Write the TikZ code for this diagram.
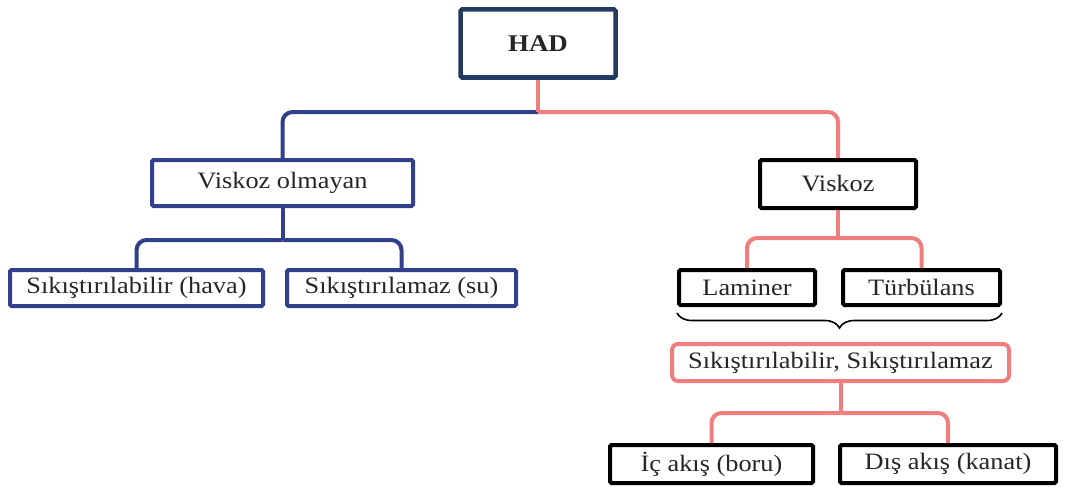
\documentclass[tikz,border=0pt]{standalone}
\usepackage{fontspec}
\setmainfont{Liberation Serif}[FakeStretch=1.12]
\usetikzlibrary{decorations.pathreplacing}
\definecolor{navy}{HTML}{243A5E}
\definecolor{linkblue}{HTML}{313F8C}
\definecolor{linkpink}{HTML}{F07E7E}
\definecolor{txt}{HTML}{262626}
\tikzset{
  box/.style={draw, line width=4pt, rounded corners=1.5pt, fill=white, inner sep=0pt,
              text=txt, font=\fontsize{23.5}{28}\selectfont},
  bluebox/.style={box, draw=linkblue},
  blackbox/.style={box, draw=black},
  pinkbox/.style={box, draw=linkpink, rounded corners=6pt},
  bluelink/.style={draw=linkblue, line width=4pt, rounded corners=10pt},
  pinklink/.style={draw=linkpink, line width=4pt, rounded corners=10pt},
}
\begin{document}
\begin{tikzpicture}[x=1pt, y=-1pt]
\useasboundingbox (0,0) rectangle (1068,487);

% nodes
\node[box, draw=navy, line width=4.5pt, minimum width=155pt, minimum height=68pt,
      font=\fontsize{24}{28}\selectfont\bfseries] (had) at (538,43.5) {HAD};

\node[bluebox, minimum width=261pt, minimum height=46pt] (vo) at (282.5,183) {Viskoz olmayan};
\node[bluebox, minimum width=253pt, minimum height=36pt] (s1) at (136.5,288) {Sıkıştırılabilir (hava)};
\node[bluebox, minimum width=229pt, minimum height=36pt] (s2) at (401.5,288) {Sıkıştırılamaz (su)};

\node[blackbox, minimum width=156pt, minimum height=48pt] (vi) at (838,184) {Viskoz};
\node[blackbox, minimum width=136pt, minimum height=35pt] (lam) at (747,287.5) {Laminer};
\node[blackbox, minimum width=157pt, minimum height=35pt] (tur) at (921.5,287.5) {Türbülans};

\node[pinkbox, minimum width=337pt, minimum height=37pt] (ss) at (840.5,362.5) {Sıkıştırılabilir, Sıkıştırılamaz};

\node[blackbox, minimum width=203pt, minimum height=38pt] (ic) at (711.5,464) {İç akış (boru)};
\node[blackbox, minimum width=216pt, minimum height=38pt] (dis) at (948,464) {Dış akış (kanat)};

% junction points of the connectors
\coordinate (hj) at (538,112);
\coordinate (voj) at (282.5,240);
\coordinate (vij) at (838,238);
\coordinate (ssj) at (840.5,413);
\coordinate (bl) at (677,313);
\coordinate (br) at (1002,313);

% connectors
\draw[bluelink] (hj) -| (vo.north);
\draw[pinklink] (hj) -| (vi.north);
\draw[pinklink, rounded corners=0pt] (had.south) -- (hj);

\draw[bluelink, rounded corners=0pt] (vo.south) -- (voj);
\draw[bluelink] (voj) -| (s1.north);
\draw[bluelink] (voj) -| (s2.north);

\draw[pinklink, rounded corners=0pt] (vi.south) -- (vij);
\draw[pinklink] (vij) -| (lam.north);
\draw[pinklink] (vij) -| (tur.north);

\draw[pinklink, rounded corners=0pt] (ss.south) -- (ssj);
\draw[pinklink] (ssj) -| (ic.north);
\draw[pinklink] (ssj) -| (dis.north);

% brace grouping the flow regimes
\draw[black, line width=1.6pt, decorate,
      decoration={brace, mirror, amplitude=15pt}] (bl) -- (br);
\end{tikzpicture}
\end{document}
